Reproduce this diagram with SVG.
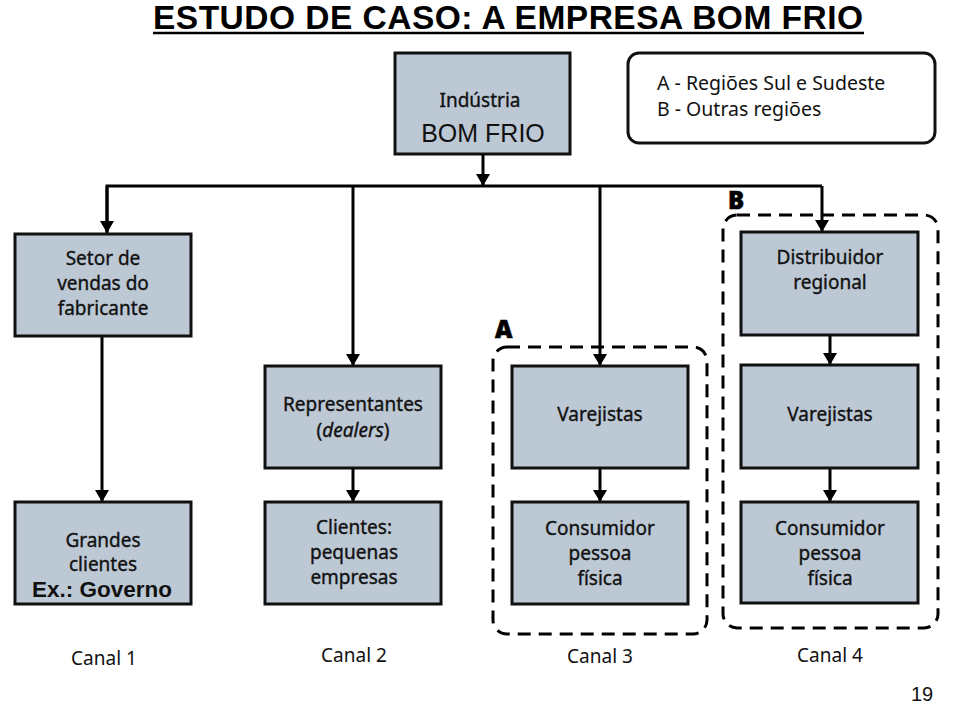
<svg xmlns="http://www.w3.org/2000/svg" width="959" height="704" viewBox="0 0 959 704">
<defs>
<marker id="arr" viewBox="0 0 12 14" refX="12" refY="7" markerWidth="12" markerHeight="14" markerUnits="userSpaceOnUse" orient="auto">
<path d="M0,0 L12,7 L0,14 Z" fill="#000"/>
</marker>
</defs>
<style>
.box{fill:#bcc8d4;stroke:#111;stroke-width:3}
.t{font-family:"Noto Sans","Open Sans",sans-serif;font-size:19px;fill:#111;stroke:#111;stroke-width:0.35;text-anchor:middle}
.c{stroke:#000;stroke-width:3;fill:none}
.dash{stroke:#000;stroke-width:3;fill:none;stroke-dasharray:13 8}
.lbl{font-family:"Noto Sans","Open Sans",sans-serif;font-size:19px;fill:#111;text-anchor:middle}
.leg{font-family:"Noto Sans","Open Sans",sans-serif;font-size:19.5px;fill:#111}
.big{font-family:"Noto Sans","Open Sans",sans-serif;font-size:24px;font-weight:900;fill:#000;stroke:#000;stroke-width:0.6}
</style>
<rect width="959" height="704" fill="#fff"/>

<g id="title">
<text x="153" y="29" font-family="Liberation Sans, Arial, sans-serif" font-size="33.5" font-weight="bold" fill="#000" textLength="710">ESTUDO DE CASO: A EMPRESA BOM FRIO</text>
<line x1="153" y1="33" x2="864" y2="33" stroke="#000" stroke-width="2.5"/>
</g>

<g id="industria">
<rect class="box" x="395" y="53" width="175" height="101"/>
<text class="t" x="480" y="107">Indústria</text>
<text x="483" y="142" font-family="Liberation Sans, Arial, sans-serif" font-size="25" fill="#111" text-anchor="middle">BOM FRIO</text>
</g>

<g id="legenda">
<rect x="628" y="53" width="307" height="90" rx="11" fill="#fff" stroke="#111" stroke-width="3"/>
<text class="leg" x="657" y="90">A - Regiões Sul e Sudeste</text>
<text class="leg" x="657" y="116">B - Outras regiões</text>
</g>

<g id="regiaoA">
<rect class="dash" x="493" y="347" width="214" height="287" rx="14"/>
<text class="big" x="495" y="338">A</text>
</g>
<g id="regiaoB">
<rect class="dash" x="723" y="215" width="215" height="413" rx="14"/>
<text class="big" x="728" y="209">B</text>
</g>

<g id="connectors">
<line class="c" x1="483" y1="154" x2="483" y2="186" marker-end="url(#arr)"/>
<polyline class="c" points="107,232 107,186 822,186"/>
<line class="c" x1="107" y1="186" x2="107" y2="233" marker-end="url(#arr)"/>
<line class="c" x1="353" y1="186" x2="353" y2="366" marker-end="url(#arr)"/>
<line class="c" x1="600" y1="186" x2="600" y2="366" marker-end="url(#arr)"/>
<line class="c" x1="822" y1="186" x2="822" y2="232" marker-end="url(#arr)"/>
<line class="c" x1="102" y1="336" x2="102" y2="502" marker-end="url(#arr)"/>
<line class="c" x1="353" y1="468" x2="353" y2="502" marker-end="url(#arr)"/>
<line class="c" x1="600" y1="468" x2="600" y2="502" marker-end="url(#arr)"/>
<line class="c" x1="830" y1="335" x2="830" y2="365" marker-end="url(#arr)"/>
<line class="c" x1="830" y1="468" x2="830" y2="502" marker-end="url(#arr)"/>
</g>

<g id="setor">
<rect class="box" x="15" y="234" width="176" height="102"/>
<text class="t" x="103" y="265">Setor de</text>
<text class="t" x="103" y="290">vendas do</text>
<text class="t" x="103" y="315">fabricante</text>
</g>

<g id="representantes">
<rect class="box" x="265" y="366" width="176" height="102"/>
<text class="t" x="353" y="411">Representantes</text>
<text class="t" x="353" y="437">(<tspan font-style="italic">dealers</tspan>)</text>
</g>

<g id="varejistasA">
<rect class="box" x="512" y="366" width="176" height="102"/>
<text class="t" x="600" y="421">Varejistas</text>
</g>

<g id="distribuidor">
<rect class="box" x="741" y="232" width="177" height="103"/>
<text class="t" x="830" y="264">Distribuidor</text>
<text class="t" x="830" y="289">regional</text>
</g>

<g id="varejistasB">
<rect class="box" x="741" y="365" width="177" height="103"/>
<text class="t" x="830" y="421">Varejistas</text>
</g>

<g id="grandes">
<rect class="box" x="15" y="502" width="176" height="102"/>
<text class="t" x="103" y="547">Grandes</text>
<text class="t" x="103" y="571">clientes</text>
<text x="102" y="597" font-family="Liberation Sans, Arial, sans-serif" font-size="22.5" font-weight="bold" fill="#111" text-anchor="middle">Ex.: Governo</text>
</g>

<g id="clientes">
<rect class="box" x="265" y="502" width="176" height="102"/>
<text class="t" x="354" y="534">Clientes:</text>
<text class="t" x="354" y="559">pequenas</text>
<text class="t" x="354" y="584">empresas</text>
</g>

<g id="consumidorA">
<rect class="box" x="512" y="502" width="176" height="102"/>
<text class="t" x="600" y="535">Consumidor</text>
<text class="t" x="600" y="560">pessoa</text>
<text class="t" x="600" y="585">física</text>
</g>

<g id="consumidorB">
<rect class="box" x="741" y="502" width="177" height="101"/>
<text class="t" x="830" y="535">Consumidor</text>
<text class="t" x="830" y="560">pessoa</text>
<text class="t" x="830" y="585">física</text>
</g>

<g id="canais">
<text class="lbl" x="104" y="665">Canal 1</text>
<text class="lbl" x="354" y="662">Canal 2</text>
<text class="lbl" x="600" y="663">Canal 3</text>
<text class="lbl" x="830" y="662">Canal 4</text>
</g>

<text x="922" y="701" font-family="Liberation Sans, Arial, sans-serif" font-size="20" fill="#111" text-anchor="middle">19</text>
</svg>
